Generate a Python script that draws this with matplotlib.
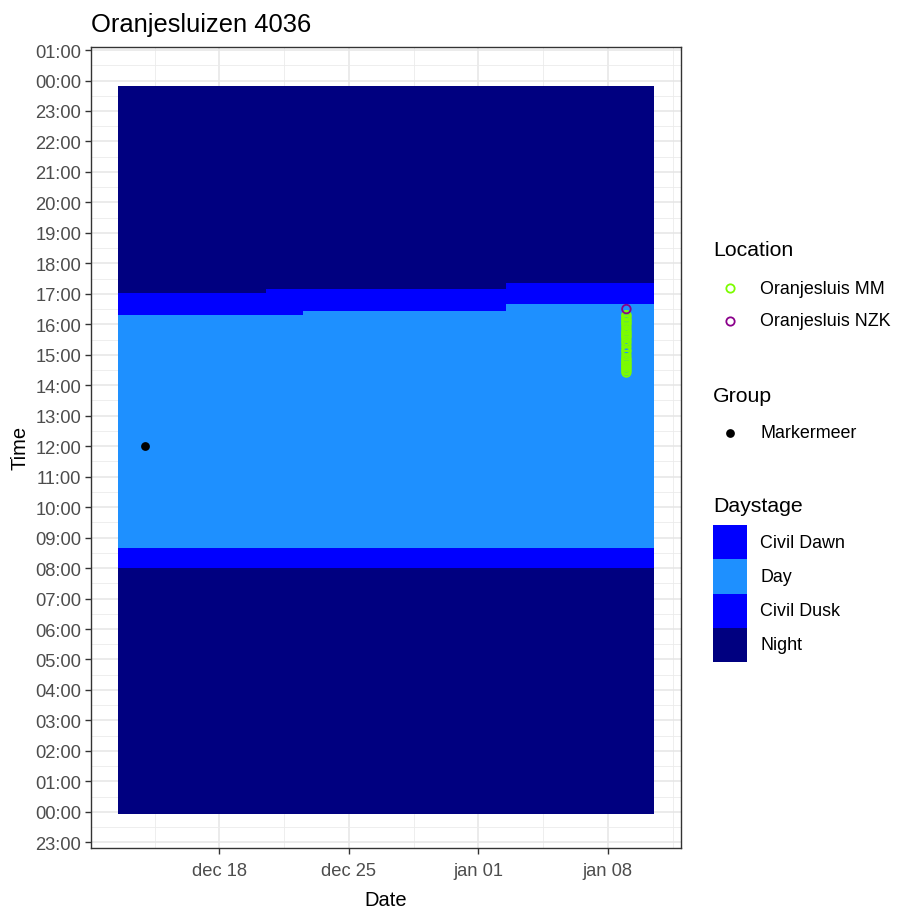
import datetime as dt
import matplotlib
matplotlib.use("Agg")
import matplotlib.pyplot as plt
import matplotlib.dates as mdates
from matplotlib.lines import Line2D
from matplotlib.patches import Rectangle

plt.rcParams['font.family'] = ['Liberation Sans', 'DejaVu Sans']

# one tile column per day, Dec 13 .. Jan 10
days = [dt.date(2022, 12, d) for d in range(13, 32)] + [dt.date(2023, 1, d) for d in range(1, 11)]

# daystage boundaries in decimal hours, read per day
night_start_morning = -0.075
dawn_start = [7.99] * 29
day_start = [8.66] * 29
dusk_start = [16.32] * 10 + [16.45] * 11 + [16.65] * 8
night_start = [17.03] * 8 + [17.16] * 13 + [17.36] * 8
night_end = 23.83

stage_colors = {"Civil Dawn": "#0000FF", "Day": "#1E90FF",
                "Civil Dusk": "#0000FF", "Night": "#000080"}

# detections
mm_date = dt.date(2023, 1, 9)
mm_times = ["14:25", "14:29", "14:32", "14:36", "14:39", "14:43", "14:46", "14:50",
            "14:53", "14:59", "15:06", "15:09", "15:16", "15:23", "15:28", "15:34",
            "15:37", "15:41", "15:44", "15:48", "15:54", "16:00", "16:03", "16:07",
            "16:10", "16:15", "16:18"]
nzk_date = dt.date(2023, 1, 9)
nzk_times = ["16:30"]
group_date = dt.date(2022, 12, 14)
group_times = ["12:00"]


def to_hours(ts):
    return [int(t[:2]) + int(t[3:]) / 60 for t in ts]


W, H = 899, 912
fig = plt.figure(figsize=(W / 100, H / 100), dpi=100)


def fx(x):
    return x / W


def fy(y):
    return 1 - y / H


ax = fig.add_axes([fx(90.7), fy(848.5), fx(681) - fx(90.7), fy(48) - fy(848.5)])

# tile edges: each day spans +-half a day around its date
xd = mdates.date2num(days)
edges = list(xd - 0.5) + [xd[-1] + 0.5]
stacks = [
    ("Night", [night_start_morning] * 29, dawn_start),
    ("Civil Dawn", dawn_start, day_start),
    ("Day", day_start, dusk_start),
    ("Civil Dusk", dusk_start, night_start),
    ("Night", night_start, [night_end] * 29),
]
for name, lo, hi in stacks:
    ax.stairs(hi, edges, baseline=lo, fill=True, color=stage_colors[name],
              linewidth=0, zorder=2)

ax.scatter([mdates.date2num(mm_date)] * len(mm_times), to_hours(mm_times),
           s=38, facecolors="none", edgecolors="#7CFC00", linewidths=1.3, zorder=3)
ax.scatter([mdates.date2num(nzk_date)] * len(nzk_times), to_hours(nzk_times),
           s=38, facecolors="none", edgecolors="#8B008B", linewidths=1.3, zorder=4)
ax.scatter([mdates.date2num(group_date)] * len(group_times), to_hours(group_times),
           s=40, color="black", linewidths=0, zorder=4)

# axes, ticks and grid
xt_dates = [dt.date(2022, 12, 18), dt.date(2022, 12, 25), dt.date(2023, 1, 1), dt.date(2023, 1, 8)]
xt_labels = ["dec 18", "dec 25", "jan 01", "jan 08"]
ax.set_xticks(mdates.date2num(xt_dates))
ax.set_xticklabels(xt_labels)
ax.set_xticks(mdates.date2num([dt.date(2022, 12, 14)]) + [0.5, 7.5, 14.5, 21.5, 28.5], minor=True)

yt = list(range(-1, 26))
ax.set_yticks(yt)
ax.set_yticklabels([f"{h % 24:02d}:00" for h in yt])
ax.set_yticks([h + 0.5 for h in range(-2, 26)], minor=True)

x0, x1 = edges[0], edges[-1]
pad = (x1 - x0) * 0.05
ax.set_xlim(x0 - pad, x1 + pad)
ax.set_ylim(-1.17, 25.1)

ax.grid(which="major", color="#E6E6E6", linewidth=1.1, zorder=0)
ax.grid(which="minor", color="#EBEBEB", linewidth=0.6, zorder=0)
ax.set_axisbelow(True)
ax.tick_params(which="major", length=4.3, width=1.0, color="#333333",
               labelcolor="#4D4D4D", labelsize=13.2, pad=2.5)
ax.tick_params(axis="x", which="major", pad=6)
ax.tick_params(which="minor", length=0)
for s in ax.spines.values():
    s.set_color("#333333")
    s.set_linewidth(1.0)

ax.set_xlabel("Date", fontsize=14.5, labelpad=8)
ax.set_ylabel("Time", fontsize=14.5, labelpad=4)
fig.text(fx(91), fy(25), "Oranjesluizen 4036", fontsize=18.4, ha="left", va="center")

# legends
tsize = 15.3
lsize = 12.9
fig.text(fx(713), fy(250), "Location", fontsize=tsize, va="center")
for y, col, lab in [(289, "#7CFC00", "Oranjesluis MM"), (322, "#8B008B", "Oranjesluis NZK")]:
    fig.add_artist(Line2D([fx(730)], [fy(y)], marker="o", markersize=6, mfc="none",
                          mec=col, mew=1.3, transform=fig.transFigure))
    fig.text(fx(760), fy(y), lab, fontsize=lsize, va="center")

fig.text(fx(713), fy(397), "Group", fontsize=tsize, va="center")
fig.add_artist(Line2D([fx(730)], [fy(434)], marker="o", markersize=6.3, color="black",
                      mew=0, transform=fig.transFigure))
fig.text(fx(760), fy(434), "Markermeer", fontsize=lsize, va="center")

fig.text(fx(713), fy(507), "Daystage", fontsize=tsize, va="center")
box_top = 526
for i, lab in enumerate(["Civil Dawn", "Day", "Civil Dusk", "Night"]):
    t = box_top + i * 34.3
    fig.add_artist(Rectangle((fx(713), fy(t + 34.3)), fx(747) - fx(713), fy(t) - fy(t + 34.3),
                             facecolor=stage_colors[lab], edgecolor="none",
                             transform=fig.transFigure))
    fig.text(fx(760), fy(t + 17), lab, fontsize=lsize, va="center")

fig.savefig("out.png", dpi=100, facecolor="white")
